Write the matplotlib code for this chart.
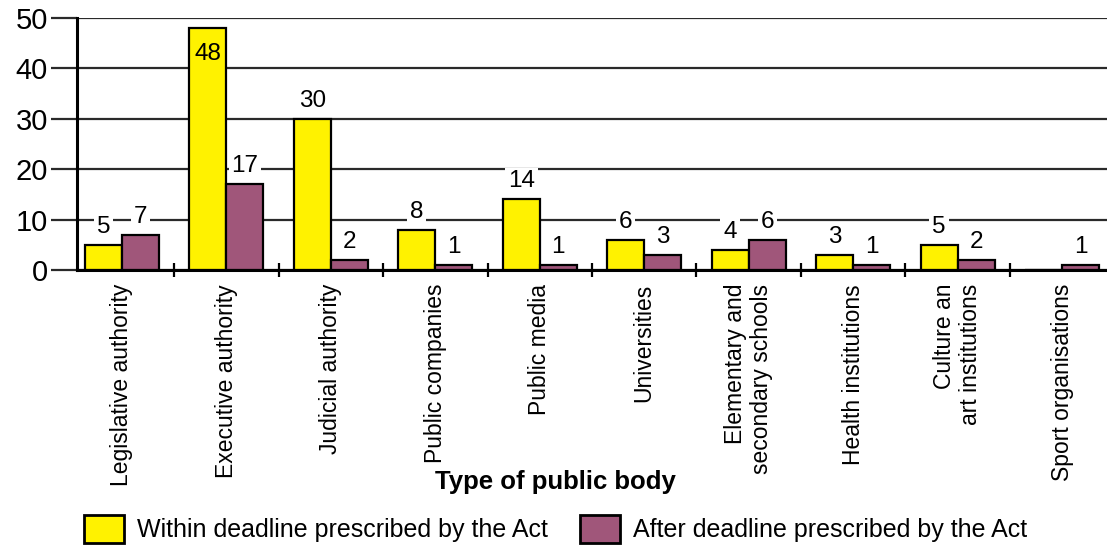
import matplotlib.pyplot as plt
from matplotlib.patches import Patch
import numpy as np

categories = ["Legislative authority", "Executive authority", "Judicial authority",
              "Public companies", "Public media", "Universities",
              "Elementary and\nsecondary schools", "Health institutions",
              "Culture an\nart institutions", "Sport organisations"]
within = [5, 48, 30, 8, 14, 6, 4, 3, 5, 0]
after = [7, 17, 2, 1, 1, 3, 6, 1, 2, 1]
yticks = [0, 10, 20, 30, 40, 50]

yellow = "#fff200"
purple = "#a0567a"
base = "Liberation Sans"

fig = plt.figure(figsize=(11.07, 5.49), dpi=100)
ax = fig.add_axes([77 / 1107, 1 - 270 / 549, 1 - 77 / 1107, (270 - 18) / 549])

x = np.arange(len(categories))
w = 0.355
b1 = ax.bar(x - w / 2, within, w, color=yellow, edgecolor="black", linewidth=1.6, zorder=3)
b2 = ax.bar(x + w / 2, after, w, color=purple, edgecolor="black", linewidth=1.6, zorder=3)

# value labels; white box cuts the grid line behind the number
for bars, vals in [(b1, within), (b2, after)]:
    for r, v in zip(bars, vals):
        if v == 0:
            continue
        cx = r.get_x() + r.get_width() / 2
        if v > 45:
            ax.annotate(str(v), (cx, v), xytext=(0, -11), textcoords="offset points",
                        ha="center", va="top", fontsize=17.5, family=base, zorder=5)
        else:
            ax.annotate(str(v), (cx, v), xytext=(0, 5), textcoords="offset points",
                        ha="center", va="bottom", fontsize=17.5, family=base, zorder=5,
                        bbox=dict(boxstyle="square,pad=0.12", fc="white", ec="none"))

ax.set_ylim(0, 50)
ax.set_xlim(-0.43, len(categories) - 0.57)
ax.set_yticks(yticks)
ax.set_yticklabels([str(t) for t in yticks], fontsize=21, family=base)
ax.tick_params(axis="y", direction="out", length=19, width=1.6, color="#2a2a2a", pad=2)
ax.yaxis.grid(True, color="#2a2a2a", linewidth=1.6, zorder=0)
ax.set_axisbelow(True)

ax.set_xticks(x)
ax.set_xticklabels(categories, rotation=90, fontsize=16.5, family=base,
                   va="top", ha="center", multialignment="right")
ax.tick_params(axis="x", which="major", length=0, pad=10)
ax.set_xticks(x[:-1] + 0.5, minor=True)
ax.tick_params(axis="x", which="minor", direction="inout", length=10, width=1.6, color="black")

for s in ["top", "right"]:
    ax.spines[s].set_visible(False)
for s in ["left", "bottom"]:
    ax.spines[s].set_linewidth(2.2)
    ax.spines[s].set_zorder(4)

fig.text(0.502, 1 - 482 / 549, "Type of public body", ha="center", va="center",
         fontsize=18.5, fontweight="bold", family=base)

handles = [Patch(facecolor=yellow, edgecolor="black", linewidth=2),
           Patch(facecolor=purple, edgecolor="black", linewidth=2)]
fig.legend(handles, ["Within deadline prescribed by the Act", "After deadline prescribed by the Act"],
           loc="center", bbox_to_anchor=(0.502, 1 - 529 / 549), ncol=2, frameon=False,
           prop={"family": base, "size": 18}, handlelength=1.6, handleheight=1.3,
           handletextpad=0.5, columnspacing=1.3, borderpad=0, borderaxespad=0)

fig.savefig("out.png", dpi=100)
